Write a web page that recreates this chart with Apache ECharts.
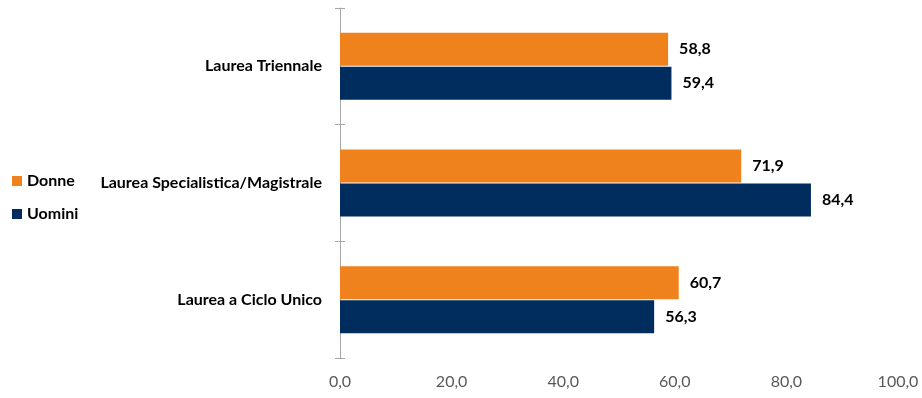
<!DOCTYPE html>
<html><head><meta charset="utf-8">
<script src="https://cdn.jsdelivr.net/npm/echarts@6/dist/echarts.min.js"></script>
<style>html,body{margin:0;padding:0;background:#fff}#c{width:922px;height:398px}</style>
</head><body><div id="c"></div>
<script>
const categories = ['Laurea Triennale', 'Laurea Specialistica/Magistrale', 'Laurea a Ciclo Unico'];
const donne = [58.8, 71.9, 60.7];
const uomini = [59.4, 84.4, 56.3];
const seriesNames = ['Donne', 'Uomini'];
const fmt = v => Number(v).toFixed(1).replace('.', ',');
const FONT = 'Lato';
const chart = echarts.init(document.getElementById('c'), null, {renderer: 'canvas'});
const lbl = {show: true, position: 'right', distance: 11, formatter: p => fmt(p.value), color: '#000', fontWeight: 'bold', fontSize: 16, fontFamily: FONT};
chart.setOption({
  animation: false,
  textStyle: {fontFamily: FONT},
  legend: {
    orient: 'vertical', left: 7, top: 168, itemWidth: 10, itemHeight: 10, itemGap: 17,
    icon: 'rect',
    textStyle: {fontFamily: FONT, fontWeight: 'bold', fontSize: 16, color: '#000'},
    data: seriesNames
  },
  grid: {left: 340, right: 24, top: 8, bottom: 40},
  xAxis: {
    type: 'value', min: 0, max: 100, interval: 20,
    axisLine: {show: false}, axisTick: {show: false}, splitLine: {show: false},
    axisLabel: {formatter: fmt, color: '#595959', fontSize: 16, margin: 16, fontFamily: FONT}
  },
  yAxis: [{
    type: 'category', data: categories, inverse: true,
    axisLine: {lineStyle: {color: '#A6A6A6', width: 1}},
    axisTick: {show: true, length: 5, lineStyle: {color: '#A6A6A6', width: 1}},
    axisLabel: {color: '#000', fontWeight: 'bold', fontSize: 16, margin: 18, fontFamily: FONT}
  }, {
    type: 'category', data: categories, inverse: true, position: 'left',
    axisLine: {show: false},
    axisTick: {show: true, inside: true, length: 5, lineStyle: {color: '#A6A6A6', width: 1}},
    axisLabel: {show: false}
  }],
  series: [
    {name: seriesNames[0], type: 'bar', data: donne, barWidth: 33, barGap: '3%', barCategoryGap: '43%',
     itemStyle: {color: '#F0821E'}, label: lbl},
    {name: seriesNames[1], type: 'bar', data: uomini, barWidth: 33, barGap: '3%', barCategoryGap: '43%',
     itemStyle: {color: '#002D5E'}, label: lbl}
  ]
});
</script></body></html>
